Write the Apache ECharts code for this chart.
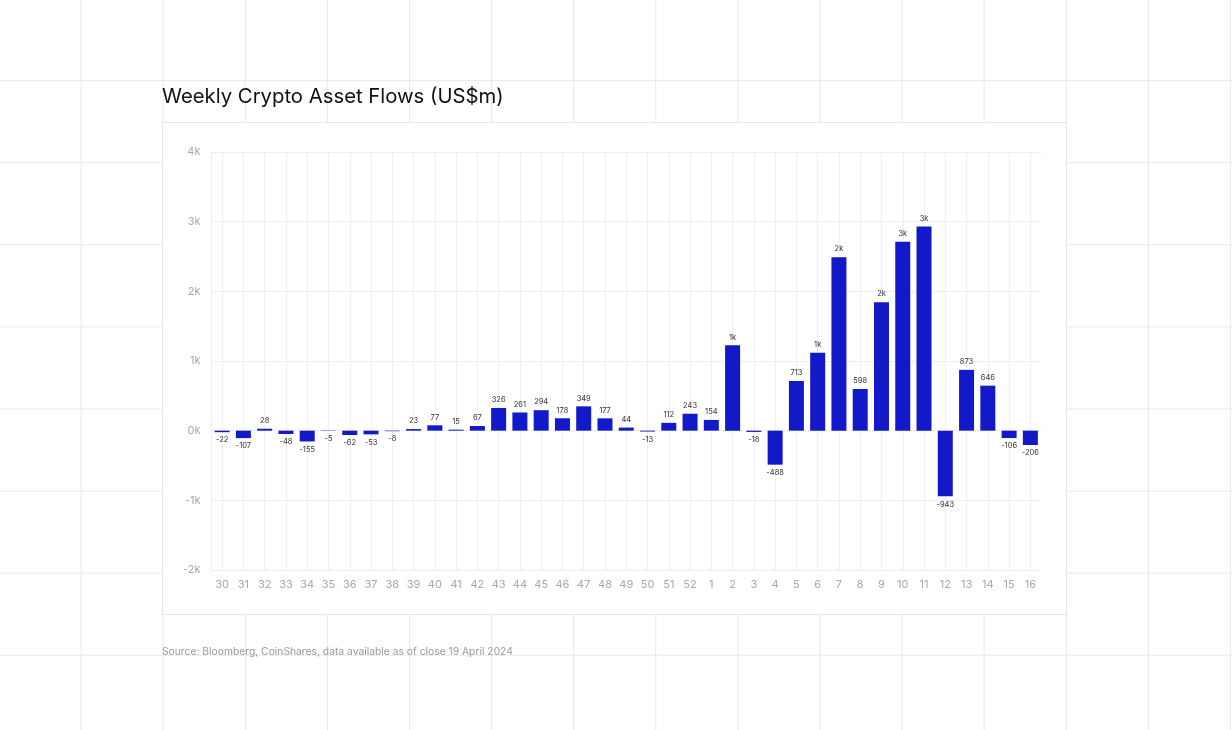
<!DOCTYPE html>
<html>
<head>
    <meta charset="UTF-8">
    <title>Weekly Crypto Asset Flows</title>
    <script src="https://cdn.jsdelivr.net/npm/echarts@6/dist/echarts.min.js"></script>
    <style>
        html, body {
            margin: 0;
            padding: 0;
            width: 1232px;
            height: 730px;
            overflow: hidden;
        }
        body {
            background-color: #fff;
            background-image:
                linear-gradient(to right, #e8e8e8 1px, transparent 1px),
                linear-gradient(to bottom, #e8e8e8 1px, transparent 1px);
            background-size: 82.1px 82.1px;
            background-position: -1.5px -2px;
        }
        #panel {
            position: absolute;
            left: 162px;
            top: 122px;
            width: 903px;
            height: 491px;
            background: #fff;
            border: 1px solid #e6e6e6;
        }
        #main {
            position: absolute;
            left: 0;
            top: 0;
            width: 1232px;
            height: 730px;
        }
    </style>
</head>
<body>
<div id="panel"></div>
<div id="main"></div>
<script>
    // week numbers (2023 wk30 .. 2024 wk16)
    var weeks = ['30', '31', '32', '33', '34', '35', '36', '37', '38', '39', '40', '41', '42', '43', '44', '45',
        '46', '47', '48', '49', '50', '51', '52', '1', '2', '3', '4', '5', '6', '7', '8', '9', '10', '11', '12',
        '13', '14', '15', '16'];
    // flows, US$m
    var flows = [-22, -107, 28, -48, -155, -5, -62, -53, -8, 23, 77, 15, 67, 326, 261, 294,
        178, 349, 177, 44, -13, 112, 243, 154, 1225, -18, -488, 713, 1120, 2490, 598, 1845, 2710, 2930, -943,
        873, 646, -106, -206];
    var yTicks = [-2000, -1000, 0, 1000, 2000, 3000, 4000];

    var barData = [];
    for (var i = 0; i < flows.length; i++) {
        var item = {value: flows[i]};
        if (flows[i] < 0) {
            item.label = {position: 'bottom'};
        }
        barData.push(item);
    }

    var myChart = echarts.init(document.getElementById('main'), null, {renderer: 'canvas'});
    var option = {
        backgroundColor: 'transparent',
        animation: false,
        title: [
            {
                text: 'Weekly Crypto Asset Flows (US$m)',
                left: 162,
                top: 87,
                padding: 0,
                textStyle: {
                    fontFamily: 'Inter',
                    fontSize: 20.3,
                    fontWeight: 'normal',
                    color: '#111'
                }
            },
            {
                text: 'Source: Bloomberg, CoinShares, data available as of close 19 April 2024',
                left: 162,
                top: 647,
                padding: 0,
                textStyle: {
                    fontFamily: 'Inter',
                    fontSize: 10.3,
                    fontWeight: 'normal',
                    color: '#9a9a9a'
                }
            }
        ],
        grid: {
            left: 211.5,
            right: 191,
            top: 152,
            bottom: 160,
            containLabel: false
        },
        xAxis: {
            type: 'category',
            data: weeks,
            axisLine: {show: false, onZero: false},
            axisTick: {show: false, alignWithLabel: true},
            axisLabel: {
                interval: 0,
                margin: 9,
                fontFamily: 'Inter',
                fontSize: 11,
                color: '#a8a8a8'
            },
            splitLine: {
                show: true,
                alignWithLabel: true,
                lineStyle: {color: '#eeeeee', width: 1}
            }
        },
        yAxis: {
            type: 'value',
            min: yTicks[0],
            max: yTicks[yTicks.length - 1],
            interval: 1000,
            axisLine: {show: true, lineStyle: {color: '#eeeeee'}},
            axisTick: {show: false},
            axisLabel: {
                margin: 11,
                fontFamily: 'Inter',
                fontSize: 11,
                color: '#a8a8a8',
                formatter: function (v) {
                    return (v / 1000) + 'k';
                }
            },
            splitLine: {lineStyle: {color: '#eeeeee', width: 1}}
        },
        series: [
            {
                name: 'Flows',
                type: 'bar',
                barWidth: 15,
                data: barData,
                itemStyle: {color: '#1219C8'},
                label: {
                    show: true,
                    position: 'top',
                    distance: 4,
                    fontFamily: 'Inter',
                    fontSize: 7.5,
                    color: '#333',
                    formatter: function (p) {
                        var v = p.value;
                        if (Math.abs(v) >= 1000) {
                            return Math.round(v / 1000) + 'k';
                        }
                        return v;
                    }
                }
            }
        ]
    };
    myChart.setOption(option);
</script>
</body>
</html>
